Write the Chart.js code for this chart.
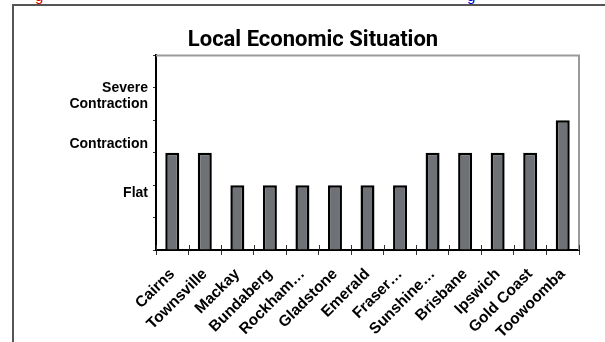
<!DOCTYPE html>
<html>
<head>
<meta charset="utf-8">
<script src="https://cdn.jsdelivr.net/npm/chart.js@4/dist/chart.umd.min.js"></script>
<style>
  html, body { margin: 0; padding: 0; width: 605px; height: 342px; overflow: hidden; background: #fff; }
  #frame { position: absolute; left: 12px; top: 4px; width: 700px; height: 400px; border: 2px solid #555; box-sizing: border-box; }
  #wrap { position: absolute; left: 14px; top: 6px; width: 598px; height: 336px; }
  .cut { position: absolute; top: -13px; font: 15px "Liberation Sans", Arial, sans-serif; }
</style>
</head>
<body>
<span class="cut" style="left:35px;color:#e00000;">g</span>
<span class="cut" style="left:467px;color:#0000e0;">g</span>
<div id="frame"></div>
<div id="wrap"><canvas id="c"></canvas></div>
<script>
const categories = ["Cairns", "Townsville", "Mackay", "Bundaberg", "Rockham…", "Gladstone", "Emerald", "Fraser…", "Sunshine…", "Brisbane", "Ipswich", "Gold Coast", "Toowoomba"];
const situationValues = [3, 3, 2, 2, 2, 2, 2, 2, 3, 3, 3, 3, 4];
const yTickLabels = { 2: ["Flat"], 3: ["Contraction"], 5: ["Severe", "Contraction"] };
const chartTitle = "Local Economic Situation";

const FONT = '"Liberation Sans", Arial, sans-serif';
// layout only: how the label block sits relative to its tick (as in the original)
const labelSide = { 2: 'below', 3: 'above', 5: 'below' };

const plotBorder = {
  id: 'plotBorder',
  afterDraw(chart) {
    const a = chart.chartArea, ctx = chart.ctx;
    ctx.save();
    ctx.strokeStyle = '#9a9a9a';
    ctx.lineWidth = 2;
    ctx.beginPath();
    ctx.moveTo(a.left, a.top);
    ctx.lineTo(a.right, a.top);
    ctx.lineTo(a.right, a.bottom);
    ctx.stroke();
    // x tick marks extending above the axis
    const xs = chart.scales.x;
    ctx.strokeStyle = '#333';
    ctx.lineWidth = 1;
    ctx.beginPath();
    for (let i = 0; i <= categories.length; i++) {
      const px = Math.round(xs.getPixelForValue(i - 0.5)) + 0.5;
      ctx.moveTo(px, a.bottom);
      ctx.lineTo(px, a.bottom - 5);
    }
    ctx.stroke();
    ctx.restore();
  }
};

new Chart(document.getElementById('c'), {
  type: 'bar',
  data: {
    labels: categories,
    datasets: [{
      data: situationValues,
      backgroundColor: '#6e7175',
      borderColor: '#000',
      borderWidth: 2.5,
      categoryPercentage: 1,
      barPercentage: 0.43
    }]
  },
  options: {
    responsive: true,
    maintainAspectRatio: false,
    animation: false,
    layout: { padding: 0 },
    plugins: {
      legend: { display: false },
      tooltip: { enabled: false },
      title: {
        display: true,
        text: chartTitle,
        color: '#000',
        font: { family: 'Roboto, "Liberation Sans", Arial, sans-serif', size: 22, weight: 'bold' },
        padding: { top: 21, bottom: 2 }
      }
    },
    scales: {
      y: {
        min: 0, max: 6,
        afterFit(s) { s.width = 142; },
        ticks: {
          stepSize: 1,
          autoSkip: false,
          color: '#000',
          padding: 5,
          font: { family: FONT, size: 14, weight: 'bold', lineHeight: 1.2 },
          callback: (v) => {
            const lbl = yTickLabels[v];
            if (!lbl) return '';
            return labelSide[v] === 'above' ? [...lbl, ''] : ['', ...lbl];
          }
        },
        grid: { drawOnChartArea: false, tickLength: 3, color: '#333', lineWidth: 1 },
        border: { color: '#000', width: 2 }
      },
      yRight: {
        position: 'right',
        display: true,
        afterFit(s) { s.width = 33; },
        ticks: { display: false },
        grid: { display: false },
        border: { display: false }
      },
      x: {
        afterFit(s) { s.height = 92; },
        ticks: {
          color: '#000',
          minRotation: 45, maxRotation: 45,
          padding: 10,
          autoSkip: false,
          font: { family: FONT, size: 15.5, weight: 'bold' }
        },
        grid: { drawOnChartArea: false, offset: true, tickLength: 5, color: '#333', lineWidth: 1 },
        border: { color: '#000', width: 2 }
      }
    }
  },
  plugins: [plotBorder]
});
</script>
</body>
</html>
